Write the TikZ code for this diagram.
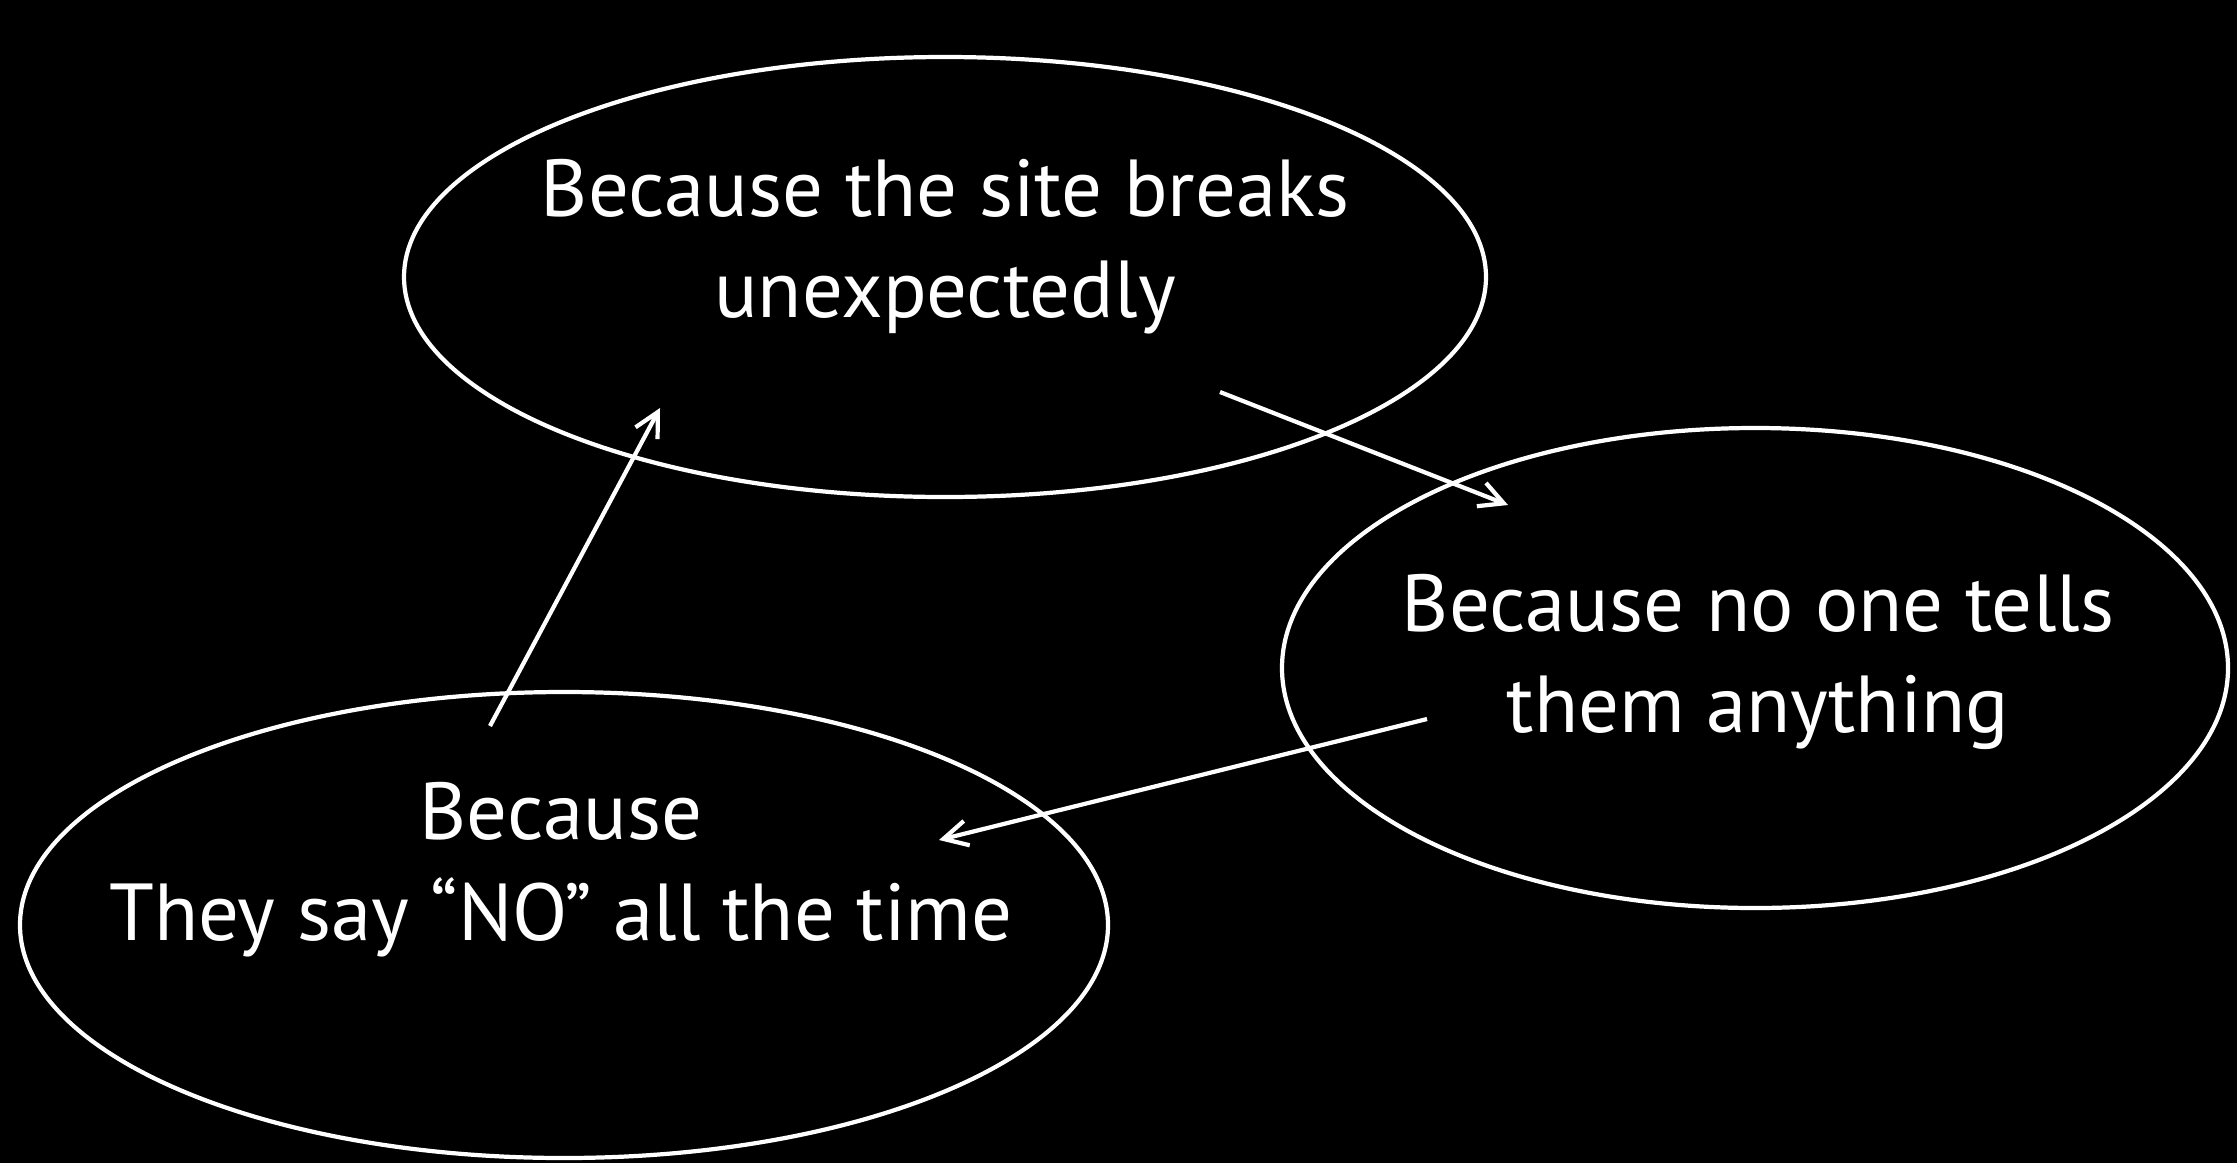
\documentclass[tikz,border=0pt]{standalone}
\usepackage{fontspec}
\setmainfont{PT Sans}
\usetikzlibrary{shapes.geometric,arrows.meta}

\begin{document}
\begin{tikzpicture}[x=1cm,y=1cm,
    bubble/.style={draw=white,line width=1.2pt,ellipse,inner sep=0pt},
    reason/.style={text=white,align=center,anchor=base,font=\fontsize{23}{28.5}\selectfont},
    cause/.style={draw=white,line width=1.2pt,-{Straight Barb[length=2.4mm,width=2.5mm]}}]
    \fill[black] (0,0) rectangle (22.37,-11.63);
    \useasboundingbox (0,0) rectangle (22.37,-11.63);

    % the three bubbles
    \node[bubble,minimum width=10.82cm,minimum height=4.40cm] (breaks) at (9.45,-2.77) {};
    \node[bubble,minimum width=9.46cm,minimum height=4.80cm] (tells) at (17.55,-6.68) {};
    \node[bubble,minimum width=10.88cm,minimum height=4.66cm] (says) at (5.64,-9.25) {};

    % texts, placed on their last baseline
    \node[reason] (breakstext) at (9.45,-3.17) {Because the site breaks\\unexpectedly};
    \node[reason] (tellstext) at (17.58,-7.32) {Because no one tells\\them anything};
    \node[reason] (saystext) at (5.61,-9.40) {Because\\They say “NO” all the time};

    % arrow ends
    \coordinate (a1) at (12.20,-3.92);
    \coordinate (b1) at (15.08,-5.05);
    \coordinate (a2) at (14.27,-7.19);
    \coordinate (b2) at (9.39,-8.40);
    \coordinate (a3) at (4.90,-7.26);
    \coordinate (b3) at (6.60,-4.08);

    \draw[cause] (a1) -- (b1);
    \draw[cause] (a2) -- (b2);
    \draw[cause] (a3) -- (b3);
\end{tikzpicture}
\end{document}
